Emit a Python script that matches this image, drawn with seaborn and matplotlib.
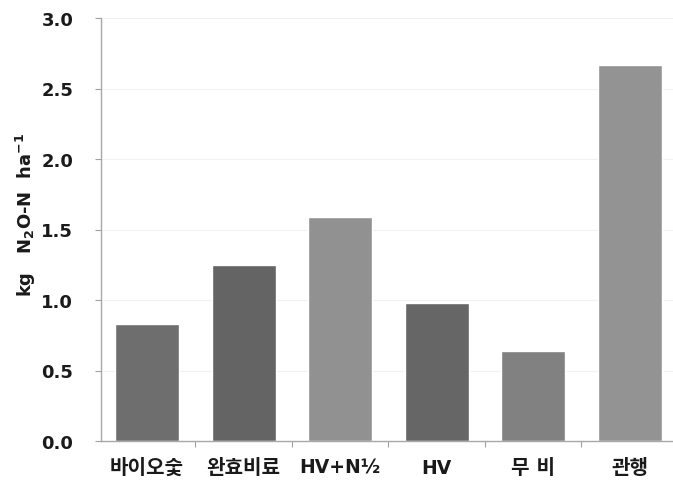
import matplotlib
matplotlib.use("Agg")
import matplotlib.pyplot as plt
import seaborn as sns
import pandas as pd

# Cumulative N2O-N emissions per treatment
treatments = ["바이오숯", "완효비료", "HV+N½", "HV", "무 비", "관행"]
emissions = [0.83, 1.25, 1.59, 0.98, 0.64, 2.67]
bar_colors = ["#6e6e6e", "#646464", "#919191", "#666666", "#818181", "#939393"]
y_ticks = [0.0, 0.5, 1.0, 1.5, 2.0, 2.5, 3.0]

sns.set_theme(style="white")
plt.rcParams["font.family"] = ["DejaVu Sans", "Noto Sans CJK KR"]
plt.rcParams["font.weight"] = "bold"
plt.rcParams["mathtext.fontset"] = "custom"
plt.rcParams["mathtext.rm"] = "DejaVu Sans:bold"
plt.rcParams["mathtext.bf"] = "DejaVu Sans:bold"
plt.rcParams["mathtext.default"] = "bf"

df = pd.DataFrame({"treatment": treatments, "n2o": emissions})

fig, ax = plt.subplots(figsize=(6.73, 4.81), dpi=100)
fig.subplots_adjust(left=101 / 673, right=1.0, bottom=1 - 442 / 481, top=1 - 19 / 481)

sns.barplot(data=df, x="treatment", y="n2o", hue="treatment", palette=bar_colors,
            width=0.663, legend=False, saturation=1, ax=ax)

ax.set_xlim(-0.477, len(treatments) - 0.55)
ax.set_ylim(0, 3.0)
ax.set_yticks(y_ticks)
ax.set_yticklabels([f"{v:.1f}" for v in y_ticks])
ax.yaxis.grid(True, color="#f2f2f2", linewidth=0.8)
ax.set_axisbelow(True)

# tick marks sit between categories on the x axis
ax.set_xticks(range(len(treatments)))
ax.set_xticklabels(treatments)
ax.set_xticks([i + 0.5 for i in range(len(treatments) - 1)], minor=True)
ax.tick_params(axis="x", which="major", length=0, pad=12)
ax.tick_params(axis="x", which="minor", length=4, width=0.8, color="#a0a0a0", bottom=True)
ax.tick_params(axis="y", length=4, width=0.8, color="#a0a0a0", left=True, pad=16, labelsize=13)
for lbl in ax.get_xticklabels():
    txt = lbl.get_text()
    is_latin = all(ord(c) < 0x1100 for c in txt)
    lbl.set_fontsize(13.5 if is_latin else 14.5)
    lbl.set_fontweight("bold")
    lbl.set_color("#1a1a1a")
for lbl in ax.get_yticklabels():
    lbl.set_fontweight("bold")
    lbl.set_color("#1a1a1a")

for side in ["top", "right"]:
    ax.spines[side].set_visible(False)
for side in ["left", "bottom"]:
    ax.spines[side].set_color("#a8a8a8")
    ax.spines[side].set_linewidth(1.0)

ax.set_xlabel("")
ax.set_ylabel(r"kg   N$_{2}$O-N  ha$^{-1}$", fontsize=13, fontweight="bold", color="#1a1a1a")
ax.yaxis.set_label_coords(-63 / 572, 0.537)

fig.savefig("out.png", dpi=100)
